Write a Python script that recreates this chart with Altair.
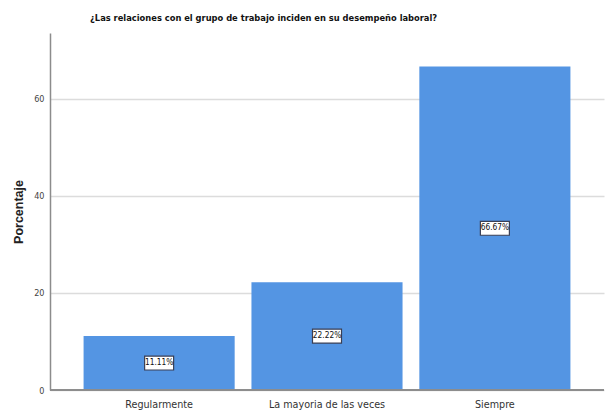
import altair as alt
import pandas as pd

categories = ["Regularmente", "La mayoria de las veces", "Siempre"]
values = [11.11, 22.22, 66.67]
labels = ["11.11%", "22.22%", "66.67%"]

df = pd.DataFrame({"cat": categories, "val": values, "lab": labels})

NARROW = "DejaVu Sans Condensed, Liberation Sans Narrow, sans-serif"

x = alt.X("cat:N", sort=categories, title=None,
          scale=alt.Scale(paddingInner=0.1, paddingOuter=0.2),
          axis=alt.Axis(labelAngle=0, ticks=False, domain=False, labelFont=NARROW,
                        labelFontSize=10.7, labelColor="#333333", labelPadding=9, grid=False))

base = alt.Chart(df)

bars = base.mark_bar(color="#5495E3").encode(
    x=x,
    y=alt.Y("val:Q", title="Porcentaje", scale=alt.Scale(domain=[0, 73.6], nice=False),
            axis=alt.Axis(values=[0, 20, 40, 60], grid=True, gridColor="#DCDCDC", gridWidth=1.5,
                          ticks=False, domain=True, domainColor="#8C8C8C", domainWidth=1.5,
                          labelFont=NARROW, labelFontSize=9, labelColor="#444444", labelPadding=6,
                          titleFont="Liberation Sans, Arial, sans-serif", titleFontSize=12.5,
                          titleFontWeight="bold", titleColor="#222222", titlePadding=8)),
)

baseline = base.mark_rule(color="#8C8C8C", strokeWidth=1.5).encode(
    x=alt.value(0), x2=alt.value(554), y=alt.datum(0)
)

boxes = base.transform_calculate(mid="datum.val / 2").mark_point(
    shape="M-1,-0.48H1V0.48H-1Z", filled=True, fill="white", stroke="#3A3F55",
    strokeWidth=1.2, opacity=1, size=841
).encode(x=alt.X("cat:N", sort=categories), y=alt.Y("mid:Q"))

texts = base.transform_calculate(mid="datum.val / 2").mark_text(
    font=NARROW, fontSize=8.3, color="#111111"
).encode(x=alt.X("cat:N", sort=categories), y=alt.Y("mid:Q"), text="lab:N")

chart = alt.layer(bars, baseline, boxes, texts).properties(
    width=554, height=357,
    title=alt.TitleParams("¿Las relaciones con el grupo de trabajo inciden en su desempeño laboral?",
                          anchor="start", frame="group", dx=40, offset=10, fontSize=9.25,
                          fontWeight="bold", font=NARROW, color="#111111"),
    autosize=alt.AutoSizeParams(type="none"),
    padding={"left": 42, "top": 25, "right": 2, "bottom": 22},
).configure_view(stroke=None)

chart.save("out.html", embed_options={"renderer": "svg", "actions": False})
